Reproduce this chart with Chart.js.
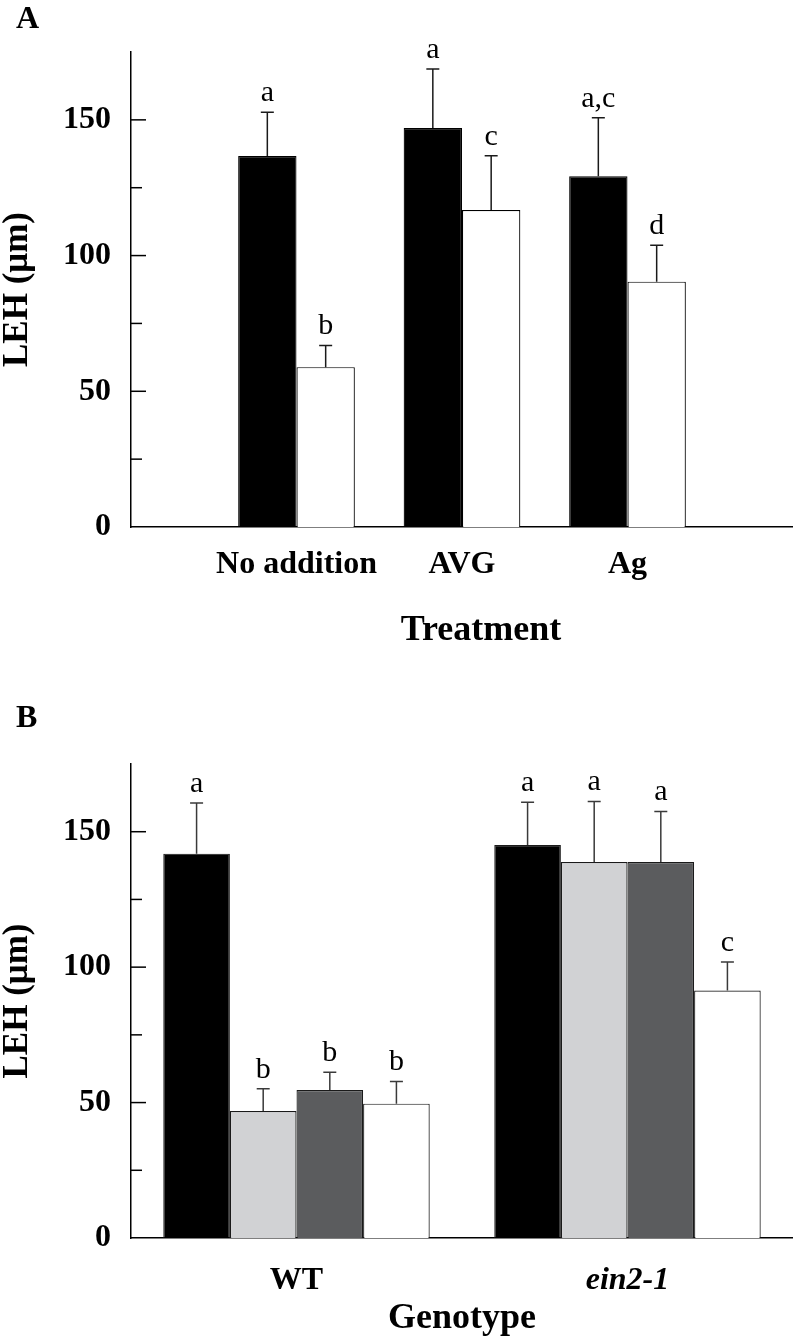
<!DOCTYPE html>
<html>
<head>
<meta charset="utf-8">
<script src="https://cdn.jsdelivr.net/npm/chart.js@4.4.0/dist/chart.umd.min.js"></script>
<style>
  html, body { margin: 0; padding: 0; background: #fff; }
  .panel { position: relative; width: 793px; height: 671px; }
  .tag { position: absolute; left: 16px; font: bold 32px "Liberation Serif", "Times New Roman", serif; line-height: 1; }
</style>
</head>
<body>
<div class="panel"><div class="tag" style="top:1px">A</div><canvas id="chartA"></canvas></div>
<div class="panel"><div class="tag" style="top:29px">B</div><canvas id="chartB"></canvas></div>
<script>
// panel A: treatment
const treatments = ["No addition", "AVG", "Ag"];
const blackA = [136.7, 147.0, 129.2];
const blackAErr = [16.1, 21.7, 21.6];
const blackALetters = ["a", "a", "a,c"];
const whiteA = [58.9, 116.8, 90.4];
const whiteAErr = [8.0, 20.0, 13.4];
const whiteALetters = ["b", "c", "d"];

// panel B: genotype
const genotypes = ["WT", "ein2-1"];
const blackB = [141.9, 145.1];
const blackBErr = [18.7, 15.8];
const blackBLetters = ["a", "a"];
const lightB = [46.9, 138.8];
const lightBErr = [8.2, 22.4];
const lightBLetters = ["b", "a"];
const darkB = [54.6, 138.8];
const darkBErr = [6.6, 18.7];
const darkBLetters = ["b", "a"];
const whiteB = [49.6, 91.4];
const whiteBErr = [8.2, 10.5];
const whiteBLetters = ["b", "c"];

const yLabelled = [0, 50, 100, 150];

const serif = "'Liberation Serif', 'Times New Roman', serif";

// error bars, significance letters, inward y ticks
const extrasPlugin = {
  id: "extras",
  afterDatasetsDraw(chart, args, opts) {
    let ctx = chart.ctx;
    let y = chart.scales.y;
    let area = chart.chartArea;
    ctx.save();
    chart.data.datasets.forEach((ds, i) => {
      let meta = chart.getDatasetMeta(i);
      meta.data.forEach((bar, j) => {
        let v = ds.data[j];
        if (v == null) return;
        let top = y.getPixelForValue(v + ds.errors[j]);
        ctx.strokeStyle = opts.errColor;
        ctx.lineWidth = 1.5;
        ctx.beginPath();
        ctx.moveTo(bar.x, bar.y);
        ctx.lineTo(bar.x, top);
        ctx.moveTo(bar.x - 6.5, top);
        ctx.lineTo(bar.x + 6.5, top);
        ctx.stroke();
        ctx.fillStyle = "#000";
        ctx.font = "30px " + serif;
        ctx.textAlign = "center";
        ctx.textBaseline = "alphabetic";
        ctx.fillText(ds.letters[j], bar.x, top - 11);
      });
    });

    ctx.strokeStyle = "#000";
    ctx.lineWidth = 1.5;
    y.ticks.forEach((t) => {
      if (t.value <= y.min || t.value >= y.max) return;
      let py = y.getPixelForValue(t.value);
      let len = yLabelled.includes(t.value) ? 15 : 11;
      ctx.beginPath();
      ctx.moveTo(area.left, py);
      ctx.lineTo(area.left + len, py);
      ctx.stroke();
    });

    if (opts.xTitle) {
      ctx.fillStyle = "#000";
      ctx.font = "bold 36px " + serif;
      ctx.textAlign = "center";
      ctx.textBaseline = "middle";
      ctx.fillText(opts.xTitle.text, (area.left + area.right) / 2 + opts.xTitle.shift, opts.xTitle.y);
    }
    ctx.restore();
  },
};

function yAxis() {
  return {
    min: 0,
    max: 175,
    afterFit: (s) => { s.width = 131; },
    grid: { display: false, drawTicks: false },
    border: { display: true, color: "#000", width: 1.5 },
    ticks: {
      stepSize: 25,
      padding: 20,
      color: "#000",
      font: { family: serif, size: 32, weight: "bold" },
      callback: (v) => (yLabelled.includes(v) ? v : ""),
    },
    title: {
      display: true,
      text: "LEH (μm)",
      color: "#000",
      padding: 0,
      font: { family: serif, size: 35, weight: "bold", lineHeight: 1 },
    },
  };
}

const pad = (arr) => [null, ...arr, null];

renderPanelA();
renderPanelB();

function renderPanelA() {
  let el = document.querySelector("#chartA");
  new Chart(el, {
    type: "bar",
    data: {
      labels: pad(treatments),
      datasets: [
        {
          data: pad(blackA),
          errors: pad(blackAErr),
          letters: pad(blackALetters),
          backgroundColor: "#000",
          borderColor: "#000",
          borderWidth: 1.2,
        },
        {
          data: pad(whiteA),
          errors: pad(whiteAErr),
          letters: pad(whiteALetters),
          backgroundColor: "#fff",
          borderColor: "#000",
          borderWidth: 1.2,
        },
      ],
    },
    options: {
      responsive: true,
      maintainAspectRatio: false,
      animation: false,
      layout: { padding: { top: 52, left: 0, right: 0, bottom: 0 } },
      categoryPercentage: 0.705,
      barPercentage: 1,
      plugins: {
        legend: { display: false },
        tooltip: { enabled: false },
        extras: { errColor: "#1a1a1a", xTitle: { text: "Treatment", shift: 19, y: 631 } },
      },
      scales: {
        x: {
          offset: false,
          afterFit: (s) => { s.height = 144; },
          grid: { display: false, drawTicks: false },
          border: { display: true, color: "#000", width: 1.5 },
          ticks: {
            padding: 19,
            autoSkip: false,
            maxRotation: 0,
            minRotation: 0,
            color: "#000",
            font: { family: serif, size: 32, weight: "bold" },
          },
        },
        y: yAxis(),
      },
    },
    plugins: [extrasPlugin],
  });
}

function renderPanelB() {
  let el = document.querySelector("#chartB");
  let border = "#1a1a1a";
  new Chart(el, {
    type: "bar",
    data: {
      labels: genotypes,
      datasets: [
        { data: blackB, errors: blackBErr, letters: blackBLetters, backgroundColor: "#000", borderColor: border, borderWidth: 1.2 },
        { data: lightB, errors: lightBErr, letters: lightBLetters, backgroundColor: "#d1d2d4", borderColor: border, borderWidth: 1.2 },
        { data: darkB, errors: darkBErr, letters: darkBLetters, backgroundColor: "#5b5c5e", borderColor: border, borderWidth: 1.2 },
        { data: whiteB, errors: whiteBErr, letters: whiteBLetters, backgroundColor: "#fff", borderColor: border, borderWidth: 1.2 },
      ],
    },
    options: {
      responsive: true,
      maintainAspectRatio: false,
      animation: false,
      layout: { padding: { top: 93, left: 0, right: 0, bottom: 0 } },
      categoryPercentage: 0.805,
      barPercentage: 1,
      plugins: {
        legend: { display: false },
        tooltip: { enabled: false },
        extras: { errColor: "#3a3a3a" },
      },
      scales: {
        x: {
          afterFit: (s) => { s.height = 104; },
          grid: { display: false, drawTicks: false },
          border: { display: true, color: "#000", width: 1.5 },
          ticks: {
            padding: 24,
            autoSkip: false,
            maxRotation: 0,
            minRotation: 0,
            color: "#000",
            font: (c) => ({ family: serif, size: 32, weight: "bold", style: c.index === 1 ? "italic" : "normal" }),
          },
          title: {
            display: true,
            text: "Genotype",
            color: "#000",
            padding: { top: 0, bottom: 5 },
            font: { family: serif, size: 36, weight: "bold", lineHeight: 1 },
          },
        },
        y: yAxis(),
      },
    },
    plugins: [extrasPlugin],
  });
}
</script>
</body>
</html>
